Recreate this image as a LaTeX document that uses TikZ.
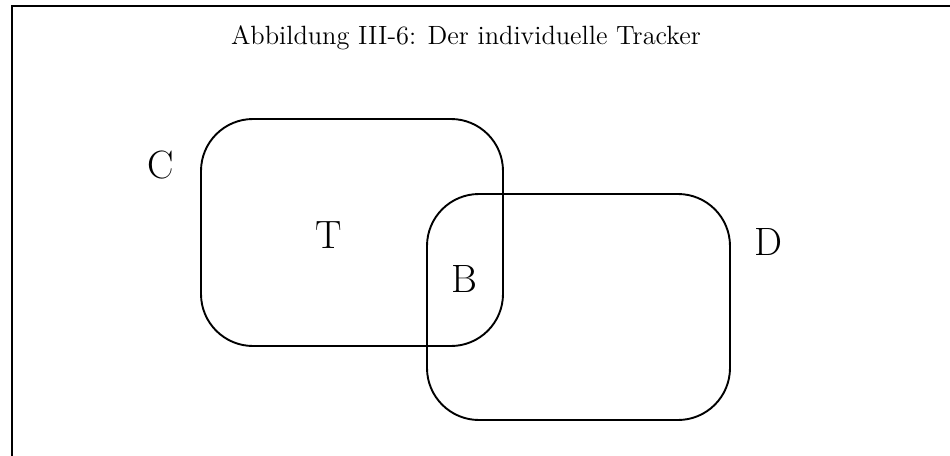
\documentclass[tikz,border=0pt]{standalone}
\begin{document}
\begin{tikzpicture}[x=0.5pt,y=-0.5pt,
  frameline/.style={line width=0.75pt},
  setbox/.style={line width=0.95pt,rounded corners=26pt},
  caption/.style={anchor=base,inner sep=0pt,font=\fontsize{13.2}{16}\selectfont},
  setlabel/.style={anchor=base,inner sep=0pt,font=\fontsize{19.75}{24}\selectfont}]
  \useasboundingbox (0,0) rectangle (950,456);
  % open frame: top and left edges only
  \coordinate (fl) at (12,456);
  \coordinate (ftl) at (12,6);
  \coordinate (fr) at (950,6);
  \draw[frameline] (fl) -- (ftl) -- (fr);
  % caption
  \node[caption] (title) at (466,44) {Abbildung III-6: Der individuelle Tracker};
  % the two overlapping sets
  \draw[setbox] (201,119) rectangle (503,346);
  \draw[setbox] (427,194) rectangle (730,420);
  % labels
  \node[setlabel] (lc) at (160.5,178) {C};
  \node[setlabel] (lt) at (329,248) {T};
  \node[setlabel] (lb) at (464,292) {B};
  \node[setlabel] (ld) at (768.5,255) {D};
\end{tikzpicture}
\end{document}
